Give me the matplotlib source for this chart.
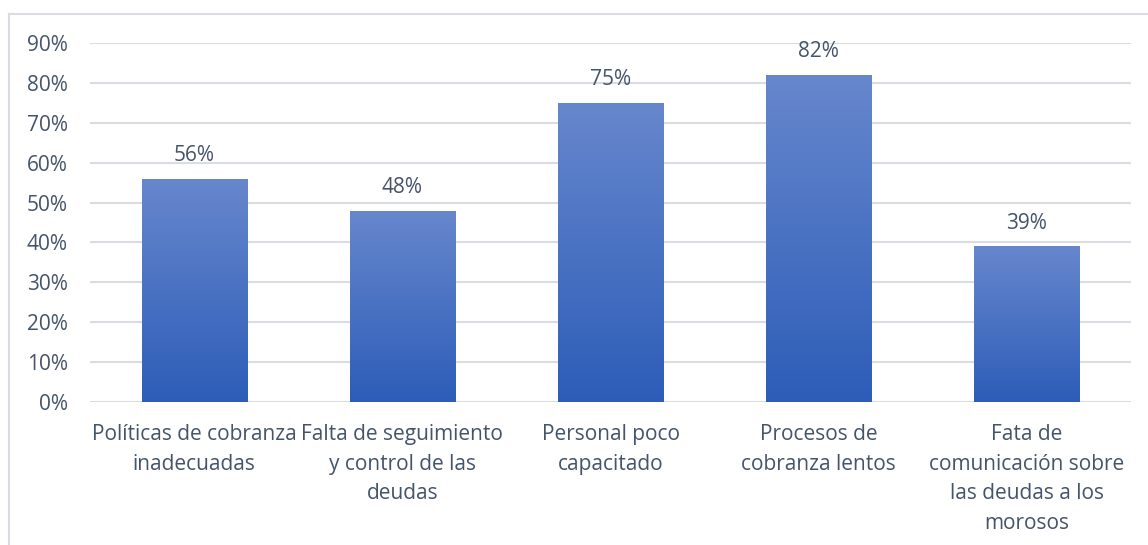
import numpy as np
import matplotlib
matplotlib.use("Agg")
import matplotlib.pyplot as plt
from matplotlib.colors import LinearSegmentedColormap
from matplotlib.lines import Line2D

# ----------------------------
# Data
# ----------------------------
categories = [
    "Políticas de cobranza\ninadecuadas",
    "Falta de seguimiento\ny control de las\ndeudas",
    "Personal poco\ncapacitado",
    "Procesos de\ncobranza lentos",
    "Fata de\ncomunicación sobre\nlas deudas a los\nmorosos",
]
values = [0.56, 0.48, 0.75, 0.82, 0.39]
yticks = [0.0, 0.1, 0.2, 0.3, 0.4, 0.5, 0.6, 0.7, 0.8, 0.9]

TEXT_COLOR = "#44546A"
GRID_COLOR = "#D9DDE3"
FONT = "Open Sans"
FS = 15

plt.rcParams["font.family"] = [FONT, "DejaVu Sans"]

fig = plt.figure(figsize=(11.48, 5.45), dpi=100)
ax = fig.add_axes([90 / 1148, 1 - 402 / 545, (1131 - 90) / 1148, (402 - 43) / 545])

x = np.arange(len(categories))
bars = ax.bar(x, values, width=0.505, color="none", zorder=3)

# vertical gradient inside each bar
cmap = LinearSegmentedColormap.from_list("barblue", ["#2D5DB8", "#6787CD"])
grad = np.linspace(0, 1, 256).reshape(-1, 1)
for b in bars:
    x0, y0 = b.get_x(), b.get_y()
    w, h = b.get_width(), b.get_height()
    im = ax.imshow(grad, cmap=cmap, origin="lower", aspect="auto",
                   extent=[x0, x0 + w, y0, y0 + h], zorder=3)
    im.set_clip_path(b)

for xi, v in zip(x, values):
    ax.annotate(f"{v:.0%}", (xi, v), xytext=(0, 9), textcoords="offset points",
                ha="center", va="bottom", fontsize=FS, color=TEXT_COLOR)

ax.set_xlim(-0.5, len(categories) - 0.5)
ax.set_ylim(0, 0.9)
ax.set_yticks(yticks)
ax.set_yticklabels([f"{t:.0%}" for t in yticks])
ax.set_xticks(x)
ax.set_xticklabels(categories, linespacing=1.53)
ax.tick_params(axis="both", length=0, labelsize=FS, labelcolor=TEXT_COLOR)
ax.tick_params(axis="y", pad=16)
ax.tick_params(axis="x", pad=16)
ax.yaxis.grid(True, color=GRID_COLOR, linewidth=1.5, zorder=0)
ax.set_axisbelow(True)
for s in ax.spines.values():
    s.set_visible(False)

# chart frame (top and left edges visible, the rest is cut off)
fig.add_artist(Line2D([9 / 1148, 1.0], [1 - 14 / 545, 1 - 14 / 545],
                      transform=fig.transFigure, color=GRID_COLOR, lw=1.5))
fig.add_artist(Line2D([9 / 1148, 9 / 1148], [0.0, 1 - 14 / 545],
                      transform=fig.transFigure, color=GRID_COLOR, lw=1.5))

fig.savefig("out.png", dpi=100, facecolor="white")
